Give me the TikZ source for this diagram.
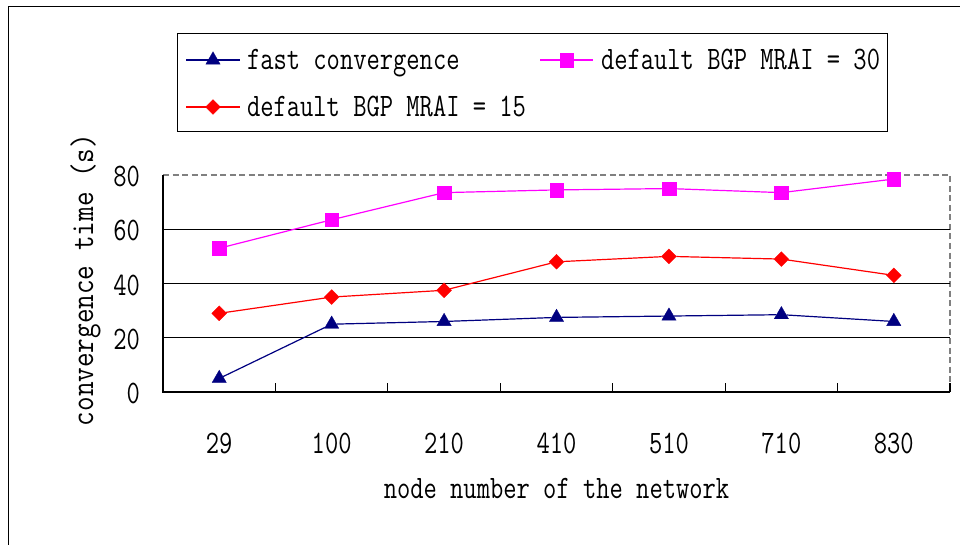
\documentclass[tikz,border=0pt]{standalone}
\usepackage{graphicx}
\usetikzlibrary{shapes.geometric}
\definecolor{navyc}{RGB}{0,0,128}
\definecolor{redc}{RGB}{255,0,0}
\definecolor{magc}{RGB}{255,0,255}
\definecolor{grayc}{RGB}{128,128,128}
\newcommand\tx[1]{\scalebox{1}[1.27]{\fontsize{25.8}{30}\selectfont\ttfamily #1}}
\newcommand\txw[1]{\scalebox{1.1}[1.27]{\fontsize{25.8}{30}\selectfont\ttfamily #1}}
\tikzset{
  tri/.style={regular polygon,regular polygon sides=3,fill=navyc,draw=navyc,minimum size=16.5pt,inner sep=0pt,line width=0.3pt},
  dia/.style={diamond,fill=redc,draw=redc,minimum width=15pt,minimum height=15pt,inner sep=0pt,line width=0.3pt},
  sqr/.style={rectangle,fill=magc,draw=magc,minimum size=13.5pt,inner sep=0pt,line width=0.3pt},
  navyline/.style={navyc,line width=1.2pt},
  redline/.style={redc,line width=1.2pt},
  magline/.style={magc,line width=1.2pt},
  txt/.style={inner sep=0pt,outer sep=0pt},
  grid/.style={black,line width=1.3pt},
}
\begin{document}
\begin{tikzpicture}[x=1pt,y=-1pt]
\useasboundingbox (0,0) rectangle (960,545);
% outer frame
\coordinate (f1) at (960,6.5);
\coordinate (f2) at (8.5,6.5);
\coordinate (f3) at (8.5,545);
\draw[line width=1.6pt] (f1) -- (f2) -- (f3);
% plot area
\coordinate (pbl) at (163,392);
\coordinate (pbr) at (950,392);
\coordinate (ptl) at (163,175);
\coordinate (ptr) at (950,175);
\draw[grayc,line width=1.8pt,dash pattern=on 6pt off 3.5pt] (ptl) -- (ptr) -- (pbr);
\foreach \v in {20,40,60}{
  \draw[grid] (163,392-2.7125*\v) -- (950,392-2.7125*\v);
}
\draw[black,line width=1.6pt] (ptl) -- (pbl) -- (pbr);
\foreach \i in {1,...,7}{
  \draw[black,line width=1.2pt] (163+112.43*\i,392) -- (163+112.43*\i,383);
}
% y tick labels
\foreach \v in {0,20,40,60,80}{
  \node[txt,anchor=base east] (yl\v) at (140,403.5-2.7125*\v) {\tx{\v}};
}
% x tick labels
\foreach \lab [count=\i] in {29,100,210,410,510,710,830}{
  \node[txt,anchor=base] (xl\i) at (163+112.43*\i-56.2,453) {\tx{\lab}};
}
% axis titles
\node[txt,anchor=base] (xt) at (556.5,498) {\tx{node number of the network}};
\node[txt,anchor=base,rotate=90] (yt) at (93,280) {\txw{convergence time (s)}};
% data
\foreach \v [count=\i] in {5,25,26,27.5,28,28.5,26}{
  \node[tri] (a\i) at (163+112.43*\i-56.2,392-2.7125*\v) {};
}
\foreach \v [count=\i] in {29,35,37.5,48,50,49,43}{
  \node[dia] (b\i) at (163+112.43*\i-56.2,392-2.7125*\v) {};
}
\foreach \v [count=\i] in {53,63.5,73.5,74.5,75,73.5,78.5}{
  \node[sqr] (c\i) at (163+112.43*\i-56.2,392-2.7125*\v) {};
}
\foreach \i [evaluate=\i as \j using int(\i+1)] in {1,...,6}{
  \draw[navyline] (a\i) -- (a\j);
  \draw[redline] (b\i) -- (b\j);
  \draw[magline] (c\i) -- (c\j);
}
% legend
\node[draw=black,line width=1.3pt,fill=white,minimum width=710pt,minimum height=98pt,inner sep=0pt,anchor=north west] (leg) at (177,33) {};
\coordinate (la1) at (186,60);
\coordinate (la2) at (240,60);
\coordinate (lb1) at (186,107);
\coordinate (lb2) at (240,107);
\coordinate (lc1) at (540,60);
\coordinate (lc2) at (593,60);
\draw[navyline] (la1) -- (la2);
\draw[redline] (lb1) -- (lb2);
\draw[magline] (lc1) -- (lc2);
\node[tri] (lma) at (213,60) {};
\node[dia] (lmb) at (213,107) {};
\node[sqr] (lmc) at (566.5,60) {};
\node[txt,anchor=base west] (lta) at (247,70) {\tx{fast convergence}};
\node[txt,anchor=base west] (ltb) at (247,117) {\tx{default BGP MRAI = 15}};
\node[txt,anchor=base west] (ltc) at (601,70) {\tx{default BGP MRAI = 30}};
\end{tikzpicture}
\end{document}
